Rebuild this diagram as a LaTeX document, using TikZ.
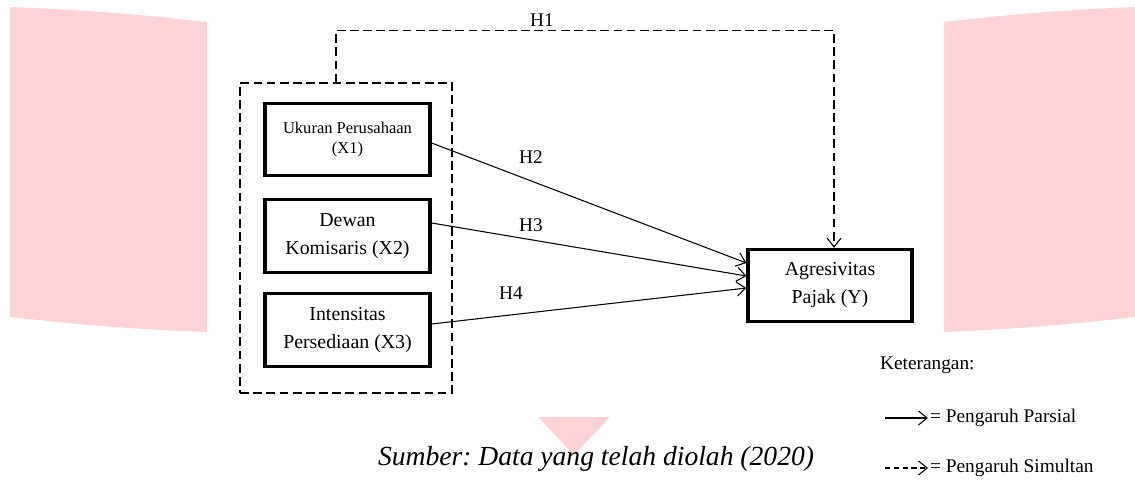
\documentclass[tikz,border=0pt]{standalone}
\usepackage{fontspec}
\setmainfont{Liberation Serif}
\frenchspacing
\usetikzlibrary{arrows.meta}
\definecolor{pinkbg}{RGB}{254,211,213}

\begin{document}
\begin{tikzpicture}[
    >={Straight Barb[length=5pt,width=8pt]},
    var/.style={draw, line width=1.8pt, align=center, minimum width=3.3cm, minimum height=1.45cm, font=\fontsize{11.3}{15.9}\selectfont},
    arr/.style={->, line width=0.6pt},
    dsh/.style={line width=0.6pt, dash pattern=on 5pt off 2.5pt},
    lbl/.style={font=\fontsize{11}{13}\selectfont, inner sep=1pt}
]
    \useasboundingbox (0,0) rectangle (22.7,9.64);

    % Latar merah muda
    \fill[pinkbg] (0.2,9.5) to[bend left=2] (4.14,9.2) -- (4.14,3.0) to[bend left=2] (0.2,3.3) -- cycle;
    \fill[pinkbg] (18.88,9.2) to[bend left=2] (22.7,9.5) -- (22.7,3.3) to[bend left=2] (18.88,3.0) -- cycle;
    \fill[pinkbg] (10.76,1.3) -- (12.2,1.3) -- (11.48,0.54) -- cycle;

    % Variabel
    \node[draw, dsh, minimum width=4.24cm, minimum height=6.2cm] (grp) at (6.92,4.88) {};
    \node[var, font=\fontsize{9.4}{11.3}\selectfont] (x1) at (6.95,6.85) {Ukuran Perusahaan\\(X1)};
    \node[var] (x2) at (6.95,4.92) {Dewan\\Komisaris (X2)};
    \node[var] (x3) at (6.95,3.04) {Intensitas\\Persediaan (X3)};
    \node[var, minimum width=3.28cm] (y) at (16.6,3.93) {Agresivitas\\Pajak (Y)};

    % Pengaruh parsial dan simultan
    \draw[arr] ([yshift=-0.07cm]x1.east) -- ([yshift=0.45cm]y.west);
    \draw[arr] ([yshift=0.26cm]x2.east) -- ([yshift=0.19cm]y.west);
    \draw[arr] ([yshift=0.12cm]x3.east) -- ([yshift=-0.05cm]y.west);
    \draw[dsh, ->] ([xshift=-0.2cm]grp.north) -- ++(0,1.04) -| ([xshift=0.08cm]y.north);

    \node[lbl] (h1) at (10.84,9.24) {H1};
    \node[lbl] (h2) at (10.62,6.5) {H2};
    \node[lbl] (h3) at (10.62,5.14) {H3};
    \node[lbl] (h4) at (10.22,3.78) {H4};

    % Keterangan
    \node[lbl, anchor=west] (ket) at (17.56,2.34) {Keterangan:};
    \coordinate (lp0) at (17.7,1.28);
    \node[lbl, anchor=west] (lp) at (18.56,1.28) {= Pengaruh Parsial};
    \draw[arr] (lp0) -- (lp.west);
    \coordinate (ls0) at (17.7,0.28);
    \node[lbl, anchor=west] (ls) at (18.56,0.28) {= Pengaruh Simultan};
    \draw[arr, dash pattern=on 3pt off 2pt] (ls0) -- (ls.west);

    \node[font=\fontsize{15.7}{19}\selectfont\itshape] (src) at (11.92,0.46) {Sumber: Data yang telah diolah (2020)};
\end{tikzpicture}
\end{document}
